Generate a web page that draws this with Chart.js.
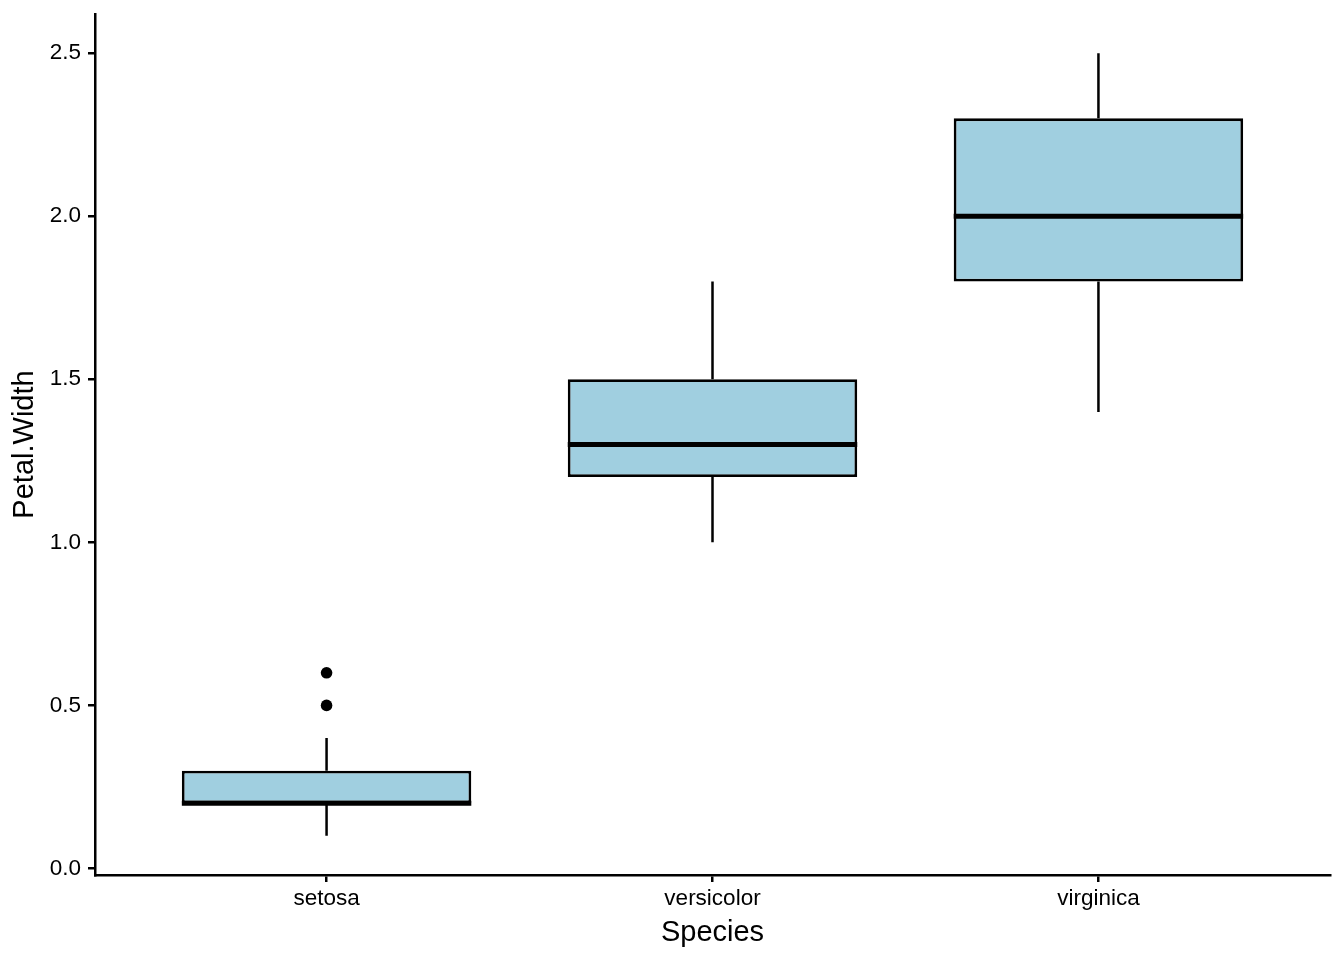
<!DOCTYPE html>
<html>
<head>
<meta charset="utf-8">
<title>Petal.Width by Species</title>
<script src="https://cdn.jsdelivr.net/npm/chart.js@4/dist/chart.umd.min.js"></script>
<style>
  html, body { margin: 0; padding: 0; background: #fff; }
  canvas { display: block; }
</style>
</head>
<body>
<canvas id="box-chart" width="1344" height="960"></canvas>
<script>
// Boxplot summary of iris Petal.Width per species
const species = ['setosa', 'versicolor', 'virginica'];
const whiskerLow = [0.1, 1.0, 1.4];
const lowerQuartile = [0.2, 1.2, 1.8];
const medians = [0.2, 1.3, 2.0];
const upperQuartile = [0.3, 1.5, 2.3];
const whiskerHigh = [0.4, 1.8, 2.5];
const outlierSpecies = ['setosa', 'setosa'];
const outlierValues = [0.5, 0.6];
const yTicks = [0.0, 0.5, 1.0, 1.5, 2.0, 2.5];

const BOX_FILL = '#a0cfe0';
const LINE = '#000000';
const FONT = "'Liberation Sans', Arial, Helvetica, sans-serif";

// species are placed at x = 1, 2, 3 on a linear scale
const xPos = name => species.indexOf(name) + 1;

/**
 * Draw whiskers under the boxes and medians on top of them
 */
const boxLinesPlugin = {
    id: 'boxLines',
    beforeDatasetsDraw(chart) {
        const { ctx, scales: { x, y } } = chart;
        ctx.save();
        ctx.strokeStyle = LINE;
        ctx.lineWidth = 2.5;
        species.forEach((name, i) => {
            const px = x.getPixelForValue(xPos(name));
            ctx.beginPath();
            ctx.moveTo(px, y.getPixelForValue(whiskerLow[i]));
            ctx.lineTo(px, y.getPixelForValue(lowerQuartile[i]));
            ctx.moveTo(px, y.getPixelForValue(upperQuartile[i]));
            ctx.lineTo(px, y.getPixelForValue(whiskerHigh[i]));
            ctx.stroke();
        });
        ctx.restore();
    },
    afterDatasetsDraw(chart) {
        const { ctx, scales: { y } } = chart;
        const meta = chart.getDatasetMeta(0);
        ctx.save();
        ctx.strokeStyle = LINE;
        ctx.lineWidth = 5;
        meta.data.forEach((bar, i) => {
            const half = bar.width / 2;
            const py = y.getPixelForValue(medians[i]);
            ctx.beginPath();
            ctx.moveTo(bar.x - half, py);
            ctx.lineTo(bar.x + half, py);
            ctx.stroke();
        });
        ctx.restore();
    }
};

document.addEventListener('DOMContentLoaded', function() {
    const canvas = document.getElementById('box-chart');

    new Chart(canvas, {
        data: {
            datasets: [{
                type: 'bar',
                data: species.map((name, i) => ({ x: xPos(name), y: [lowerQuartile[i], upperQuartile[i]] })),
                backgroundColor: BOX_FILL,
                borderColor: LINE,
                borderWidth: 2.8,
                borderSkipped: false,
                barPercentage: 0.75,
                categoryPercentage: 1
            }, {
                type: 'scatter',
                data: outlierSpecies.map((name, i) => ({ x: xPos(name), y: outlierValues[i] })),
                backgroundColor: LINE,
                borderColor: LINE,
                pointRadius: 5.8,
                borderWidth: 0
            }]
        },
        options: {
            responsive: false,
            devicePixelRatio: 1,
            animation: false,
            events: [],
            layout: { padding: { top: 14, right: 14, bottom: 0, left: 0 } },
            plugins: {
                legend: { display: false },
                tooltip: { enabled: false }
            },
            scales: {
                x: {
                    type: 'linear',
                    min: 0.4,
                    max: 3.6,
                    offset: false,
                    afterBuildTicks: scale => { scale.ticks = species.map(name => ({ value: xPos(name) })); },
                    afterFit: scale => {
                        scale.height = 85;
                        scale.paddingLeft = 0;
                        scale.paddingRight = 0;
                    },
                    grid: { offset: false, drawOnChartArea: false, drawTicks: true, tickLength: 7, color: LINE, lineWidth: 2.5 },
                    border: { display: true, color: LINE, width: 2.5 },
                    ticks: {
                        color: LINE,
                        padding: 3,
                        maxRotation: 0,
                        autoSkip: false,
                        font: { family: FONT, size: 22.5 },
                        callback: value => species[value - 1]
                    },
                    title: {
                        display: true,
                        text: 'Species',
                        color: LINE,
                        font: { family: FONT, size: 29 },
                        padding: { top: 0, bottom: 10 }
                    }
                },
                y: {
                    type: 'linear',
                    min: -0.02,
                    max: 2.62,
                    afterBuildTicks: scale => { scale.ticks = yTicks.map(v => ({ value: v })); },
                    afterFit: scale => {
                        scale.width = 95;
                        scale.paddingTop = 0;
                        scale.paddingBottom = 0;
                    },
                    grid: { drawOnChartArea: false, drawTicks: true, tickLength: 7, color: LINE, lineWidth: 2.5 },
                    border: { display: true, color: LINE, width: 2.5 },
                    ticks: {
                        color: LINE,
                        padding: 7,
                        font: { family: FONT, size: 22.5 },
                        callback: value => Number(value).toFixed(1)
                    },
                    title: {
                        display: true,
                        text: 'Petal.Width',
                        color: LINE,
                        font: { family: FONT, size: 29 },
                        padding: { top: 8, bottom: 0 }
                    }
                }
            }
        },
        plugins: [boxLinesPlugin]
    });
});
</script>
</body>
</html>
